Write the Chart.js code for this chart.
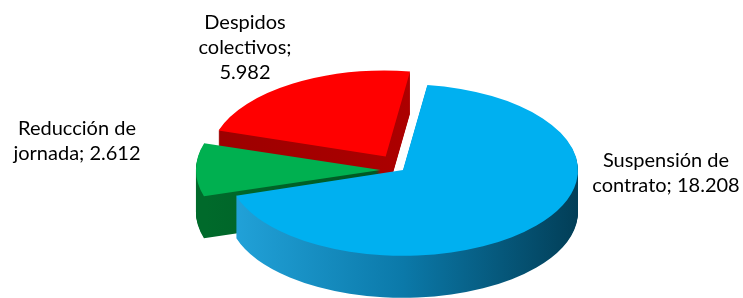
<!DOCTYPE html>
<html lang="es">
<head>
  <meta charset="UTF-8">
  <title>Expedientes de regulación de empleo</title>
  <script src="https://cdn.jsdelivr.net/npm/chart.js"></script>
  <style>
    html, body {
      margin: 0;
      padding: 0;
      background: #fff;
    }
    #pie {
      display: block;
    }
  </style>
</head>
<body>
<canvas id="pie" width="743" height="298"></canvas>

<script>
  const categories = ['Suspensión de contrato', 'Reducción de jornada', 'Despidos colectivos'];
  const values = [18208, 2612, 5982];
  const topColors = ['#00B0F0', '#00B050', '#FF0000'];
  const sideColors = [
    ['#22A3DA', '#0B79A9', '#023E57'],
    ['#006A2B', '#00441B'],
    ['#9C0000', '#B80000']
  ];

  // thousands separator with a dot, as in the source
  function fmt(v) {
    return String(v).replace(/\B(?=(\d{3})+(?!\d))/g, '.');
  }

  // label placement: centre x, first baseline y, wrap width
  const labelSpots = [
    { x: 666, y: 167, wrap: 165 },
    { x: 77, y: 135, wrap: 165 },
    { x: 245, y: 29, wrap: 110 }
  ];

  function wrapText(ctx, text, maxWidth) {
    const words = text.split(' ');
    const lines = [];
    let line = '';
    words.forEach(w => {
      const test = line ? line + ' ' + w : w;
      if (line && ctx.measureText(test).width > maxWidth) {
        lines.push(line);
        line = w;
      } else {
        line = test;
      }
    });
    if (line) lines.push(line);
    return lines;
  }

  // fake 3D: squash the pie vertically and stack darker copies under it
  const pie3d = {
    id: 'pie3d',
    beforeDatasetsDraw(chart, args, opts) {
      const ctx = chart.ctx;
      const meta = chart.getDatasetMeta(0);
      const items = meta.data.map((arc, i) => ({ arc, i }));
      // back slices first
      items.sort((a, b) =>
        Math.sin((a.arc.startAngle + a.arc.endAngle) / 2) -
        Math.sin((b.arc.startAngle + b.arc.endAngle) / 2));

      items.forEach(({ arc, i }) => {
        const cx = arc.x, cy = arc.y, r = arc.outerRadius;
        const base = arc.options;
        const cols = sideColors[i];
        const grad = ctx.createLinearGradient(cx - r, 0, cx + r, 0);
        cols.forEach((c, k) => grad.addColorStop(k / (cols.length - 1), c));

        arc.options = Object.assign({}, base, { backgroundColor: grad, borderWidth: 0 });
        for (let d = opts.depth; d >= 1; d--) {
          ctx.save();
          ctx.translate(cx, cy + d);
          ctx.scale(1, opts.tilt);
          ctx.translate(-cx, -cy);
          arc.draw(ctx);
          ctx.restore();
        }
        arc.options = base;

        ctx.save();
        ctx.translate(cx, cy);
        ctx.scale(1, opts.tilt);
        ctx.translate(-cx, -cy);
        arc.draw(ctx);
        ctx.restore();
      });
      return false;
    },
    afterDraw(chart) {
      const ctx = chart.ctx;
      ctx.save();
      ctx.font = '20px Lato, "Open Sans", sans-serif';
      ctx.fillStyle = '#000';
      ctx.textAlign = 'center';
      ctx.textBaseline = 'alphabetic';
      categories.forEach((cat, i) => {
        const spot = labelSpots[i];
        const lines = wrapText(ctx, cat + '; ' + fmt(values[i]), spot.wrap);
        lines.forEach((ln, k) => ctx.fillText(ln, spot.x, spot.y + k * 25));
      });
      ctx.restore();
    }
  };

  new Chart(document.getElementById('pie'), {
    type: 'pie',
    data: {
      labels: categories,
      datasets: [{
        data: values,
        backgroundColor: topColors,
        borderWidth: 0,
        offset: [0, 90, 130],
        radius: 175
      }]
    },
    options: {
      responsive: false,
      animation: false,
      events: [],
      rotation: 8,
      layout: {
        padding: { left: 63, top: 42, right: 0, bottom: 0 }
      },
      plugins: {
        legend: { display: false },
        tooltip: { enabled: false },
        pie3d: { depth: 42, tilt: 0.49 }
      }
    },
    plugins: [pie3d]
  });
</script>
</body>
</html>
